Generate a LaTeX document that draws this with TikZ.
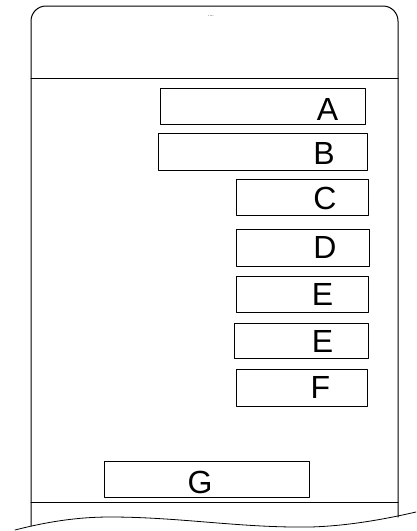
\documentclass[tikz,border=0pt]{standalone}
\usepackage{fontspec}
\setmainfont{Liberation Sans}
\usepackage{tikz}
\begin{document}
\begin{tikzpicture}[x=1pt,y=-1pt,line cap=round,line join=round,
  field/.style={draw,line width=.8pt,inner sep=0pt},
  letter/.style={inner sep=0pt,font=\fontsize{32}{36}\selectfont}]
\path[use as bounding box] (0,0) rectangle (416,531);

% page outline with torn lower edge
\draw[line width=1pt,rounded corners=15] (31,526)--(31,6)--(398,6)--(398,517);
\draw[line width=1pt] (31,78)--(398,78);
\draw[line width=1pt] (31,502)--(398,502);
\draw[line width=.8pt] (15,530) .. controls (50,521) and (80,517) .. (110,517)
  .. controls (180,517) and (240,528) .. (310,527)
  .. controls (350,526) and (390,518) .. (416,512);
\node[inner sep=0pt,font=\fontsize{5}{5}\selectfont] (dots) at (211,16) {....};

\node[field,minimum width=205,minimum height=36] (boxA) at (262.5,106) {};
\node[field,minimum width=209,minimum height=37] (boxB) at (262.5,151.5) {};
\node[field,minimum width=132,minimum height=36] (boxC) at (302,197) {};
\node[field,minimum width=133,minimum height=37] (boxD) at (302.5,247.5) {};
\node[field,minimum width=132,minimum height=36] (boxE) at (302,294) {};
\node[field,minimum width=134,minimum height=35] (boxEE) at (301,340.5) {};
\node[field,minimum width=131,minimum height=37] (boxF) at (301.5,387.5) {};
\node[field,minimum width=205,minimum height=36] (boxG) at (206.5,479) {};

\node[letter] (txtA) at (327.5,109) {A};
\node[letter] (txtB) at (324,153) {B};
\node[letter] (txtC) at (325,198) {C};
\node[letter] (txtD) at (325,247.5) {D};
\node[letter] (txtE) at (322.5,294.5) {E};
\node[letter] (txtEE) at (322.5,341) {E};
\node[letter] (txtF) at (320.5,387.5) {F};
\node[letter] (txtG) at (200,482.5) {G};
\end{tikzpicture}
\end{document}
